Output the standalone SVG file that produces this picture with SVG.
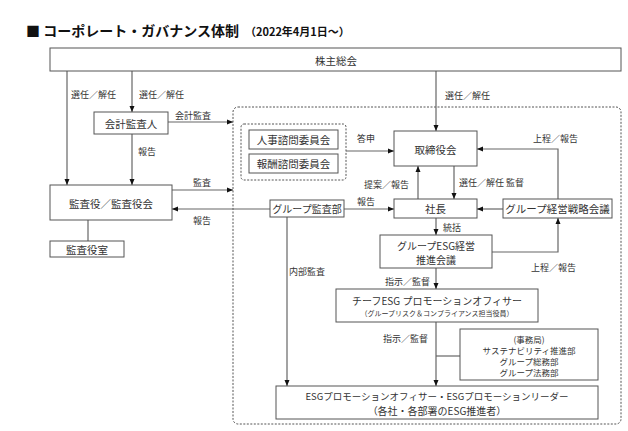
<svg xmlns="http://www.w3.org/2000/svg" width="628" height="431" viewBox="0 0 628 431">
<style>
text{font-family:"Noto Sans CJK JP","Liberation Sans",sans-serif;fill:#333;}
.bt{font-size:10.5px;text-anchor:middle;dominant-baseline:central;}
.lb{font-size:9px;dominant-baseline:central;}
.sm{font-size:8.5px;}
.box{fill:#fff;stroke:#555;stroke-width:1;}
.dash{fill:none;stroke:#555;stroke-width:1;stroke-dasharray:2,1.5;}
.cn{fill:none;stroke:#666;stroke-width:1.2;}
.ar{marker-end:url(#ah);}
</style>
<defs>
<marker id="ah" markerUnits="userSpaceOnUse" markerWidth="6" markerHeight="6" refX="6" refY="3" orient="auto">
<path d="M0,0.5 L6,3 L0,5.5 z" fill="#111"/>
</marker>
</defs>
<rect width="628" height="431" fill="#fff"/>
<g id="title">
<text x="26" y="36" style="font-size:14px;font-weight:bold;fill:#111">■ コーポレート・ガバナンス体制<tspan dx="6" style="font-size:11px">（2022年4月1日～）</tspan></text>
</g>
<g id="region">
<rect class="dash" x="233" y="107" width="388" height="317" rx="5"/>
<rect class="dash" x="241" y="124" width="105" height="56" rx="3"/>
</g>
<g id="connectors">
<line class="cn ar" x1="67" y1="71" x2="67" y2="185"/>
<line class="cn ar" x1="132" y1="71" x2="132" y2="112"/>
<line class="cn ar" x1="436" y1="71" x2="436" y2="131"/>
<line class="cn ar" x1="168" y1="122" x2="233" y2="122"/>
<line class="cn ar" x1="132" y1="134" x2="132" y2="185"/>
<line class="cn ar" x1="172" y1="190" x2="233" y2="190"/>
<line class="cn ar" x1="270" y1="209" x2="172" y2="209"/>
<line class="cn ar" x1="346" y1="151" x2="394" y2="151"/>
<line class="cn ar" x1="344" y1="209" x2="394" y2="209"/>
<line class="cn ar" x1="418" y1="199" x2="418" y2="166"/>
<line class="cn ar" x1="454" y1="166" x2="454" y2="199"/>
<polyline class="cn ar" points="558,199 558,149 477,149"/>
<line class="cn ar" x1="503" y1="209" x2="477" y2="209"/>
<line class="cn ar" x1="436" y1="218" x2="436" y2="235"/>
<polyline class="cn ar" points="492,252 558,252 558,218"/>
<line class="cn ar" x1="436" y1="268" x2="436" y2="289"/>
<line class="cn ar" x1="436" y1="322" x2="436" y2="386"/>
<line class="cn" x1="460" y1="356" x2="436" y2="356"/>
<line class="cn ar" x1="287" y1="217" x2="287" y2="386"/>
<line class="cn" x1="88" y1="220" x2="88" y2="241"/>
</g>
<g id="labels">
<text class="lb" x="71" y="94">選任／解任</text>
<text class="lb" x="139" y="94">選任／解任</text>
<text class="lb" x="445" y="95">選任／解任</text>
<text class="lb" x="175" y="115">会計監査</text>
<text class="lb" x="138" y="151">報告</text>
<text class="lb" x="193" y="182">監査</text>
<text class="lb" x="193" y="220">報告</text>
<text class="lb" x="357" y="138">答申</text>
<text class="lb" x="364" y="184">提案／報告</text>
<text class="lb" x="357" y="201">報告</text>
<text class="lb" x="459" y="182">選任／解任 監督</text>
<text class="lb" x="533" y="138">上程／報告</text>
<text class="lb" x="443" y="227">統括</text>
<text class="lb" x="531" y="267">上程／報告</text>
<text class="lb" x="289" y="271">内部監査</text>
<text class="lb" x="385" y="281">指示／監督</text>
<text class="lb" x="383" y="338">指示／監督</text>
</g>
<g id="n-shareholders">
<rect class="box" x="50" y="48" width="571" height="23"/>
<text class="bt" x="336" y="60">株主総会</text>
</g>
<g id="n-accounting-auditor">
<rect class="box" x="94" y="112" width="74" height="22"/>
<text class="bt" x="131" y="123">会計監査人</text>
</g>
<g id="n-auditors">
<rect class="box" x="50" y="185" width="122" height="35"/>
<text class="bt" x="111" y="203">監査役／監査役会</text>
</g>
<g id="n-auditors-office">
<rect class="box" x="50" y="241" width="74" height="16"/>
<text class="bt" x="87" y="249">監査役室</text>
</g>
<g id="n-nomination">
<rect class="box" x="249" y="130" width="89" height="19"/>
<text class="bt" x="293.5" y="139.5">人事諮問委員会</text>
</g>
<g id="n-remuneration">
<rect class="box" x="249" y="154" width="89" height="19"/>
<text class="bt" x="293.5" y="163.5">報酬諮問委員会</text>
</g>
<g id="n-board">
<rect class="box" x="394" y="131" width="83" height="35"/>
<text class="bt" x="435.5" y="149">取締役会</text>
</g>
<g id="n-president">
<rect class="box" x="394" y="199" width="83" height="19"/>
<text class="bt" x="435.5" y="208.5">社長</text>
</g>
<g id="n-group-audit">
<rect class="box" x="270" y="200" width="74" height="17"/>
<text class="bt" x="307" y="208.5" style="font-size:10px">グループ監査部</text>
</g>
<g id="n-strategy">
<rect class="box" x="503" y="199" width="109" height="19"/>
<text class="bt" x="557.5" y="208.5">グループ経営戦略会議</text>
</g>
<g id="n-esg-council">
<rect class="box" x="380" y="235" width="112" height="33"/>
<text class="bt" x="436" y="245" style="font-size:10px">グループESG経営</text>
<text class="bt" x="436" y="259" style="font-size:10px">推進会議</text>
</g>
<g id="n-cesgo">
<rect class="box" x="336" y="289" width="202" height="33"/>
<text class="bt" x="437" y="300" style="font-size:10px">チーフESG プロモーションオフィサー</text>
<text class="bt" x="437" y="313" style="font-size:7px">（グループリスク＆コンプライアンス担当役員）</text>
</g>
<g id="n-secretariat">
<rect class="box" x="460" y="329" width="138" height="51"/>
<text class="bt sm" x="529" y="339">(事務局)</text>
<text class="bt sm" x="529" y="350">サステナビリティ推進部</text>
<text class="bt sm" x="529" y="361">グループ総務部</text>
<text class="bt sm" x="529" y="372">グループ法務部</text>
</g>
<g id="n-esg-officers">
<rect class="box" x="276" y="386" width="322" height="33"/>
<text class="bt" x="437" y="396" style="font-size:9.5px">ESGプロモーションオフィサー・ESGプロモーションリーダー</text>
<text class="bt" x="437" y="410" style="font-size:10px">（各社・各部署のESG推進者）</text>
</g>
</svg>
